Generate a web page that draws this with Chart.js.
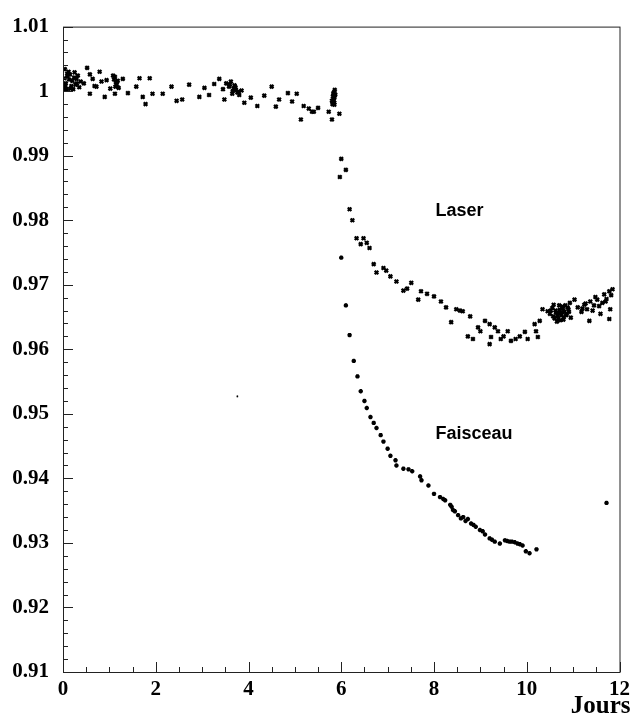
<!DOCTYPE html>
<html>
<head>
<meta charset="utf-8">
<script src="https://cdn.jsdelivr.net/npm/chart.js@4.4.1/dist/chart.umd.min.js"></script>
<style>
  html, body { margin: 0; padding: 0; background: #fff; }
  #wrap { width: 635px; height: 718px; }
</style>
</head>
<body>
<div id="wrap"><canvas id="chart"></canvas></div>
<script>
// axes
const xTicks = [0, 2, 4, 6, 8, 10, 12];
const xTickLabels = ['0', '2', '4', '6', '8', '10', '12'];
const yTicks = [0.91, 0.92, 0.93, 0.94, 0.95, 0.96, 0.97, 0.98, 0.99, 1.0, 1.01];
const yTickLabels = ['0.91', '0.92', '0.93', '0.94', '0.95', '0.96', '0.97', '0.98', '0.99', '1', '1.01'];
const xLabel = 'Jours';

// serie "Laser" (avant et apres irradiation)
const laserX = [
  0.02, 0.04, 0.06, 0.08, 0.10, 0.12, 0.15, 0.18, 0.20, 0.22, 0.25, 0.27, 0.29, 0.32, 0.35, 0.38,
  0.03, 0.05, 0.09, 0.13, 0.16, 0.24, 0.30,
  0.45, 0.52, 0.58, 0.58, 0.64, 0.68, 0.72, 0.79, 0.83, 0.90, 0.94, 1.02, 1.08, 1.12, 1.14, 1.16,
  1.10, 1.13, 1.18,
  1.12, 1.20, 1.29, 1.40, 1.58, 1.65, 1.72, 1.78, 1.87, 1.93, 2.15, 2.34, 2.45, 2.57, 2.72, 2.94,
  3.05, 3.15, 3.26, 3.37, 3.45, 3.48, 3.52, 3.58, 3.62, 3.65, 3.68, 3.70, 3.73, 3.76, 3.80, 3.85,
  3.60, 3.66, 3.72, 3.78,
  3.91, 4.05, 4.19, 4.34, 4.50, 4.59, 4.66, 4.85, 4.94, 5.04, 5.13, 5.19, 5.30, 5.37, 5.41, 5.50,
  5.73, 5.80, 5.80, 5.82, 5.84, 5.85, 5.86, 5.83, 5.87, 5.81, 5.85, 5.96,
  5.82, 5.84, 5.86, 5.83, 5.85,
  6.00, 6.10, 5.97, 6.18, 6.24, 6.33, 6.42, 6.48, 6.55, 6.61, 6.70, 6.76, 6.91, 6.97, 7.06, 7.19,
  7.34, 7.42, 7.51, 7.66, 7.72, 7.85, 8.00, 8.15, 8.26, 8.37, 8.48, 8.56, 8.62, 8.78, 8.73, 8.84,
  8.95, 9.00, 9.10, 9.20, 9.23, 9.31, 9.38, 9.44, 9.20, 9.50, 9.59, 9.66, 9.76, 9.85, 9.96, 10.02,
  10.17, 10.20, 10.28, 10.24, 10.34, 10.45,
  10.50, 10.55, 10.60, 10.62, 10.66, 10.70, 10.72, 10.75, 10.78, 10.80, 10.83, 10.86, 10.90, 10.93, 10.95,
  10.52, 10.57, 10.63, 10.68, 10.71, 10.74, 10.77, 10.81, 10.85, 10.88, 10.91, 10.58, 10.65, 10.79, 10.69,
  11.03, 11.10, 11.18, 11.24, 11.30, 11.35, 11.37, 11.45, 11.52, 11.59, 11.63, 11.67, 11.72, 11.78, 11.80,
  11.78, 11.85, 11.20, 11.27, 11.42, 11.48, 11.56, 11.70, 11.82
];
const laserY = [
  1.0003, 1.0034, 1.0012, 1.0003, 1.0022, 1.0030, 1.0026, 1.0008, 1.0016, 1.0003, 1.0029, 1.0010, 1.0019, 1.0024, 1.0006, 1.0015,
  1.0020, 1.0008, 1.0027, 1.0018, 1.0004, 1.0021, 1.0012,
  1.0012, 1.0036, 1.0026, 0.9996, 1.0019, 1.0008, 1.0007, 1.0030, 1.0015, 0.9991, 1.0017, 1.0004, 1.0024, 1.0022, 1.0014, 1.0010,
  1.0018, 1.0007, 1.0016,
  0.9996, 1.0005, 1.0019, 0.9997, 1.0007, 1.0020, 0.9991, 0.9980, 1.0020, 0.9996, 0.9996, 1.0007, 0.9985, 0.9987, 1.0010, 0.9991,
  1.0005, 0.9994, 1.0011, 1.0019, 1.0003, 0.9987, 1.0012, 1.0007, 1.0015, 0.9996, 1.0004, 1.0009, 1.0002, 0.9998, 0.9994, 1.0001,
  1.0010, 1.0000, 1.0006, 0.9999,
  0.9982, 0.9990, 0.9977, 0.9993, 1.0007, 0.9976, 0.9987, 0.9997, 0.9984, 0.9996, 0.9956, 0.9977, 0.9973, 0.9968, 0.9968, 0.9974,
  0.9968, 0.9956, 0.9985, 0.9992, 0.9998, 0.9979, 1.0002, 0.9988, 0.9995, 0.9980, 0.9990, 0.9965,
  0.9983, 0.9986, 0.9993, 0.9996, 0.9982,
  0.9895, 0.9878, 0.9867, 0.9817, 0.9800, 0.9772, 0.9763, 0.9772, 0.9765, 0.9757, 0.9732, 0.9719, 0.9726, 0.9722, 0.9713, 0.9705,
  0.9691, 0.9694, 0.9703, 0.9677, 0.9690, 0.9686, 0.9682, 0.9674, 0.9665, 0.9642, 0.9662, 0.9660, 0.9659, 0.9651, 0.9620, 0.9616,
  0.9634, 0.9628, 0.9644, 0.9639, 0.9619, 0.9634, 0.9628, 0.9616, 0.9608, 0.9620, 0.9628, 0.9613, 0.9616, 0.9620, 0.9627, 0.9616,
  0.9639, 0.9628, 0.9644, 0.9619, 0.9662, 0.9659,
  0.9655, 0.9664, 0.9648, 0.9660, 0.9652, 0.9668, 0.9645, 0.9657, 0.9663, 0.9650, 0.9668, 0.9655, 0.9662, 0.9672, 0.9649,
  0.9660, 0.9651, 0.9657, 0.9647, 0.9661, 0.9653, 0.9666, 0.9658, 0.9653, 0.9665, 0.9658, 0.9669, 0.9643, 0.9646, 0.9656,
  0.9677, 0.9665, 0.9658, 0.9669, 0.9662, 0.9644, 0.9674, 0.9668, 0.9677, 0.9655, 0.9672, 0.9685, 0.9678, 0.9690, 0.9662,
  0.9647, 0.9693, 0.9663, 0.9671, 0.9660, 0.9681, 0.9667, 0.9674, 0.9684
];

// serie "Faisceau"
const faisceauX = [
  3.76, 6.00, 6.10, 6.18, 6.27, 6.35, 6.42, 6.50, 6.55, 6.63, 6.70, 6.76, 6.85, 6.91, 7.00, 7.06,
  7.17, 7.19, 7.34, 7.45, 7.53, 7.70, 7.73, 7.88, 8.00, 8.13, 8.20, 8.24, 8.35, 8.41, 8.52, 8.63,
  8.73, 8.80, 8.90, 8.99, 9.10, 9.20, 9.31, 9.42, 9.53, 9.63, 9.74, 9.85, 9.91, 9.98, 10.06, 10.21,
  8.38, 8.45, 8.58, 8.68, 8.85, 9.05, 9.25, 9.58, 9.68, 9.80,
  11.72
];
const faisceauY = [
  0.9527, 0.9742, 0.9668, 0.9622, 0.9582, 0.9558, 0.9535, 0.9520, 0.9509, 0.9495, 0.9486, 0.9478, 0.9467, 0.9457, 0.9446, 0.9435,
  0.9428, 0.9420, 0.9415, 0.9414, 0.9411, 0.9403, 0.9397, 0.9389, 0.9376, 0.9371, 0.9368, 0.9366, 0.9359, 0.9351, 0.9343, 0.9340,
  0.9337, 0.9330, 0.9325, 0.9320, 0.9313, 0.9307, 0.9302, 0.9299, 0.9304, 0.9302, 0.9301, 0.9298, 0.9296, 0.9287, 0.9284, 0.9290,
  0.9356, 0.9349, 0.9338, 0.9334, 0.9328, 0.9318, 0.9305, 0.9303, 0.9302, 0.9299,
  0.9362
];

// etiquettes dans le graphe (position en coordonnees des donnees)
const seriesNotes = [
  { text: 'Laser', x: 8.03, y: 0.9815 },
  { text: 'Faisceau', x: 8.03, y: 0.9468 }
];

const toPoints = (xs, ys) => xs.map((x, i) => ({ x: x, y: ys[i] }));

// cadre + graduations vers l'interieur + textes
const framePlugin = {
  id: 'frame',
  afterDraw(chart) {
    const ctx = chart.ctx;
    const a = chart.chartArea;
    const xs = chart.scales.x;
    const ys = chart.scales.y;
    ctx.save();
    ctx.strokeStyle = '#222';
    ctx.lineWidth = 1;
    ctx.strokeRect(a.left + 0.5, a.top + 0.5, a.right - a.left, a.bottom - a.top);

    ctx.beginPath();
    // axe y : graduations principales et secondaires
    for (let v = 0; v <= 50; v++) {
      const val = 0.91 + v * 0.002;
      const py = Math.round(ys.getPixelForValue(val)) + 0.5;
      const len = v % 5 === 0 ? 10 : 5;
      ctx.moveTo(a.left, py);
      ctx.lineTo(a.left + len, py);
    }
    // axe x
    for (let v = 0; v <= 24; v++) {
      const px = Math.round(xs.getPixelForValue(v * 0.5)) + 0.5;
      const len = v % 4 === 0 ? 10 : 5;
      ctx.moveTo(px, a.bottom);
      ctx.lineTo(px, a.bottom - len);
    }
    ctx.stroke();

    ctx.fillStyle = '#000';
    ctx.font = 'bold 18px "Liberation Sans", Arial, sans-serif';
    ctx.textAlign = 'left';
    ctx.textBaseline = 'middle';
    seriesNotes.forEach(n => {
      ctx.fillText(n.text, xs.getPixelForValue(n.x), ys.getPixelForValue(n.y));
    });

    ctx.font = 'bold 25px "Liberation Serif", "Times New Roman", serif';
    ctx.textAlign = 'right';
    ctx.fillText(xLabel, a.right + 11, a.bottom + 35);
    ctx.restore();
  }
};

const tickFont = { family: '"Liberation Serif", "Times New Roman", serif', size: 21, weight: 'bold' };

const ctxMain = document.getElementById('chart').getContext('2d');
const mainChart = new Chart(ctxMain, {
  type: 'scatter',
  data: {
    datasets: [
      {
        label: 'Laser',
        data: toPoints(laserX, laserY),
        pointStyle: 'crossRot',
        pointRadius: 2.5,
        borderWidth: 2.3,
        borderColor: '#000',
        backgroundColor: '#000'
      },
      {
        label: 'Faisceau',
        data: toPoints(faisceauX, faisceauY),
        pointStyle: 'star',
        // le point isole vers 3.8 jours est un tout petit point
        pointRadius: (c) => (c.raw && c.raw.x < 5 ? 0.8 : 2.2),
        borderWidth: 1.5,
        borderColor: '#000',
        backgroundColor: '#000'
      }
    ]
  },
  options: {
    responsive: true,
    maintainAspectRatio: false,
    animation: false,
    layout: { padding: { top: 19, right: 13, left: 0, bottom: 0 } },
    plugins: {
      legend: { display: false },
      tooltip: { enabled: false }
    },
    scales: {
      x: {
        type: 'linear',
        min: 0,
        max: 12,
        grid: { display: false, drawTicks: false },
        border: { display: false },
        afterBuildTicks: (scale) => { scale.ticks = xTicks.map(v => ({ value: v })); },
        afterFit: (scale) => { scale.height = 46; },
        ticks: {
          padding: 5,
          color: '#000',
          font: tickFont,
          maxRotation: 0,
          autoSkip: false,
          callback: (value, index) => xTickLabels[index]
        }
      },
      y: {
        type: 'linear',
        min: 0.91,
        max: 1.01,
        grid: { display: false, drawTicks: false },
        border: { display: false },
        afterBuildTicks: (scale) => { scale.ticks = yTicks.map(v => ({ value: v })); },
        afterFit: (scale) => { scale.width = 63; },
        ticks: {
          padding: 14,
          color: '#000',
          font: tickFont,
          autoSkip: false,
          callback: (value, index) => yTickLabels[index]
        }
      }
    }
  },
  plugins: [framePlugin]
});
</script>
</body>
</html>
